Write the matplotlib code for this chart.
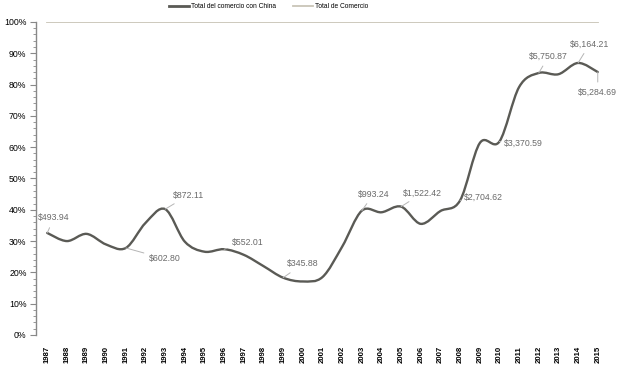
import matplotlib
matplotlib.use("Agg")
import matplotlib.pyplot as plt
from matplotlib.path import Path
from matplotlib.patches import PathPatch
from matplotlib.lines import Line2D
import numpy as np

plt.rcParams['font.family'] = ['Liberation Sans', 'DejaVu Sans']

# Datos (porcentaje del comercio total)
anos = list(range(1987, 2016))
china = [32.6, 30.0, 32.3, 28.9, 27.8, 35.8, 40.2, 29.8, 26.6, 27.4, 25.6, 22.0,
         18.3, 17.1, 18.5, 28.2, 39.7, 39.2, 41.0, 35.5, 39.6, 43.0, 61.3, 61.8,
         79.2, 83.7, 83.3, 86.9, 84.0]
total = [100] * len(anos)

# etiquetas de valor (ano, texto, posicion del texto)
etiquetas_anos = [1987, 1991, 1993, 1996, 1999, 2003, 2005, 2008, 2010, 2012, 2014, 2015]
etiquetas_txt = ["$493.94", "$602.80", "$872.11", "$552.01", "$345.88", "$993.24",
                 "$1,522.42", "$2,704.62", "$3,370.59", "$5,750.87", "$6,164.21", "$5,284.69"]
etiquetas_pos = [(1987.35, 37.4), (1993.0, 24.3), (1994.2, 44.7), (1997.2, 29.7),
                 (2000.0, 22.7), (2003.6, 45.0), (2006.1, 45.4), (2009.2, 44.0),
                 (2011.2, 61.3), (2012.5, 89.0), (2014.6, 93.0), (2015.0, 77.6)]

color_china = "#5a5a55"
color_total = "#c9c5b8"

fig = plt.figure(figsize=(6.24, 3.72), dpi=100)
ax = fig.add_axes([0.058, 0.0995, 0.916, 0.8415])

# linea suavizada (Catmull-Rom a Bezier)
x = np.array(anos, dtype=float)
y = np.array(china, dtype=float)
verts = [(x[0], y[0])]
codes = [Path.MOVETO]
n = len(x)
for i in range(n - 1):
    p0 = np.array([x[max(i - 1, 0)], y[max(i - 1, 0)]])
    p1 = np.array([x[i], y[i]])
    p2 = np.array([x[i + 1], y[i + 1]])
    p3 = np.array([x[min(i + 2, n - 1)], y[min(i + 2, n - 1)]])
    c1 = p1 + (p2 - p0) / 6
    c2 = p2 - (p3 - p1) / 6
    verts += [tuple(c1), tuple(c2), tuple(p2)]
    codes += [Path.CURVE4] * 3
ax.add_patch(PathPatch(Path(verts, codes), facecolor="none", edgecolor=color_china,
                       lw=1.7, capstyle="round", zorder=3))

ax.plot(anos, total, color=color_total, lw=1.3, zorder=2)

for ano, txt, pos in zip(etiquetas_anos, etiquetas_txt, etiquetas_pos):
    yv = china[anos.index(ano)]
    ax.annotate(txt, xy=(ano, yv), xytext=pos, fontsize=6.3, color="#6a6a6a",
                ha="center", va="center",
                arrowprops=dict(arrowstyle="-", color="#b5b5b5", lw=0.7,
                                shrinkA=2, shrinkB=0))

ax.set_xlim(1986.44, 2015.51)
ax.set_ylim(0, 100)
ax.set_yticks(range(0, 101, 10))
ax.set_yticklabels([f"{v}%" for v in range(0, 101, 10)])
ax.set_yticks(range(0, 101, 2), minor=True)
ax.set_xticks(anos)
ax.set_xticklabels([str(a) for a in anos], rotation=90, fontsize=5.6, fontweight="bold")
ax.tick_params(axis="x", length=0, pad=8)
ax.tick_params(axis="y", which="major", length=4, color="#888888", labelsize=6.3, pad=3)
ax.tick_params(axis="y", which="minor", length=2, color="#888888")
for s in ["top", "right", "bottom"]:
    ax.spines[s].set_visible(False)
ax.spines["left"].set_color("#888888")
ax.spines["left"].set_linewidth(1.0)

handles = [Line2D([], [], color=color_china, lw=2), Line2D([], [], color=color_total, lw=1.3)]
fig.legend(handles, ["Total del comercio con China", "Total de Comercio"],
           loc="upper center", bbox_to_anchor=(0.43, 1.008), ncol=2, frameon=False,
           fontsize=4.8, handlelength=3.0, handletextpad=0.3, columnspacing=2.6)

fig.savefig("out.png", dpi=100)
